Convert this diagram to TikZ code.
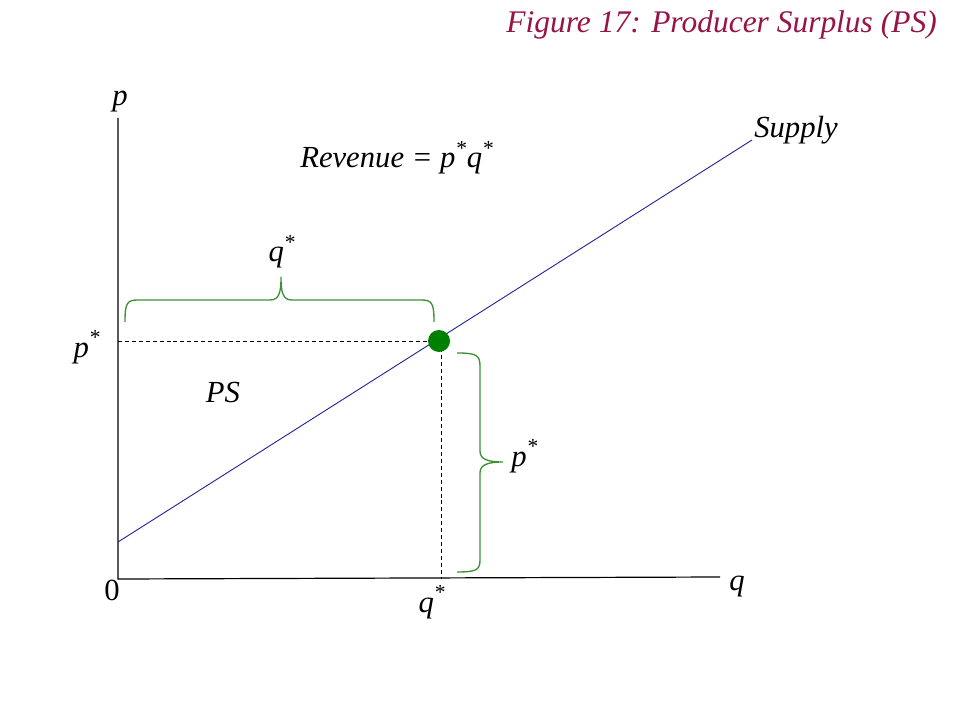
\documentclass[tikz,border=0pt]{standalone}
\usepackage{fontspec}
\setmainfont{Liberation Serif}
\begin{document}
\begin{tikzpicture}[x=0.75pt,y=-0.75pt]
\definecolor{titlered}{RGB}{150,20,70}
\definecolor{bracegreen}{RGB}{60,145,55}
\definecolor{dotgreen}{RGB}{0,128,0}
\definecolor{supplyblue}{RGB}{40,40,150}
\tikzset{
  lbl/.style={inner sep=0pt, font=\fontsize{23}{27}\selectfont\itshape},
  axis/.style={black, line width=0.9pt},
  guide/.style={black, dashed, line width=0.7pt, dash pattern=on 3pt off 2.2pt},
  bracestyle/.style={bracegreen, line width=1pt},
  supplyline/.style={supplyblue, line width=0.7pt}
}
\useasboundingbox[fill=white] (0,0) rectangle (960,720);
% title
\node[inner sep=0pt, font=\fontsize{23.6}{28}\selectfont\itshape, text=titlered, anchor=base east] (title) at (937,33) {Figure 17: Producer Surplus (PS)};
% axes
\coordinate (O) at (118,579);
\coordinate (ytop) at (118,118);
\coordinate (xend) at (720,577);
\draw[axis] (ytop) -- (O) -- (xend);
% supply
\coordinate (s0) at (118,542);
\coordinate (s1) at (752,140);
\draw[supplyline] (s0) -- (s1);
% equilibrium
\coordinate (E) at (439,341);
\coordinate (pstar) at (118,341);
\coordinate (qstar) at (441,579);
\draw[guide] (pstar) -- (E);
\draw[guide] (E) ++(2,0) -- (qstar);
\node[circle, fill=dotgreen, minimum size=16.5pt, inner sep=0pt] (dot) at (E) {};
% top brace
\draw[bracestyle] (125,322) .. controls (125,303) and (127,300) .. (138,300) -- (270,300)
  .. controls (279,300) and (281,293) .. (281,277)
  .. controls (281,293) and (283,300) .. (292,300) -- (421,300)
  .. controls (432,300) and (434,303) .. (434,322);
% right brace
\draw[bracestyle] (457,353) .. controls (476,353) and (480,355) .. (480,366) -- (480,451)
  .. controls (480,459) and (487,462) .. (503,462)
  .. controls (487,462) and (480,465) .. (480,473) -- (480,560)
  .. controls (480,570) and (476,572) .. (457,572);
% labels
\node[lbl] (plab) at (120,102) {p};
\node[lbl, anchor=base west] (supply) at (754,138) {Supply};
\node[lbl, anchor=base west] (rev) at (300,168) {Revenue = p\textsuperscript{*}q\textsuperscript{*}};
\node[lbl, anchor=base] (qtop) at (282,262) {q\textsuperscript{*}};
\node[lbl, anchor=base] (pleft) at (87,357) {p\textsuperscript{*}};
\node[lbl, anchor=base] (ps) at (223,402) {PS};
\node[lbl, anchor=base west] (pright) at (511,466) {p\textsuperscript{*}};
\node[lbl, anchor=base, font=\fontsize{23}{27}\selectfont\upshape] (zero) at (112,600) {0};
\node[lbl, anchor=base] (qaxis) at (737,590) {q};
\node[lbl, anchor=base] (qbot) at (432,612) {q\textsuperscript{*}};
\end{tikzpicture}
\end{document}
